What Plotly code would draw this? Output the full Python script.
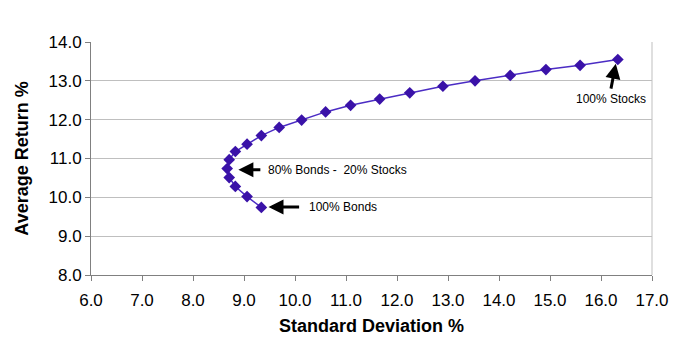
import plotly.graph_objects as go

# Efficient frontier: 100% Bonds -> 100% Stocks in 5% steps
std_dev = [9.34, 9.06, 8.83, 8.71, 8.67, 8.71, 8.83, 9.06, 9.34, 9.69, 10.13,
           10.60, 11.09, 11.66, 12.25, 12.90, 13.53, 14.22, 14.92, 15.59, 16.33]
avg_return = [9.74, 10.02, 10.28, 10.51, 10.74, 10.97, 11.18, 11.37, 11.59, 11.80, 11.99,
              12.20, 12.37, 12.53, 12.69, 12.86, 13.00, 13.14, 13.29, 13.40, 13.55]

x_ticks = [6, 7, 8, 9, 10, 11, 12, 13, 14, 15, 16, 17]
y_ticks = [8, 9, 10, 11, 12, 13, 14]

font = "Liberation Sans, Arial, sans-serif"

fig = go.Figure()
fig.add_trace(go.Scatter(
    x=std_dev, y=avg_return, mode="lines+markers",
    line=dict(color="#4B2CC4", width=1.5),
    marker=dict(symbol="diamond", size=9, color="#3A12A8"),
    showlegend=False, hoverinfo="x+y",
))

# arrows (no text) + labels
arrows = [
    # (head_x, head_y, tail_x, tail_y)
    (8.89, 10.71, 9.35, 10.71),
    (9.48, 9.75, 10.11, 9.75),
    (16.29, 13.44, 16.19, 12.76),
]
for hx, hy, tx, ty in arrows:
    fig.add_annotation(x=hx, y=hy, ax=tx, ay=ty, xref="x", yref="y",
                       axref="x", ayref="y", text="", showarrow=True,
                       arrowhead=2, arrowsize=1.0, arrowwidth=3, arrowcolor="black")

labels = [
    (9.44, 10.71, "80% Bonds -  20% Stocks", "left"),
    (10.24, 9.75, "100% Bonds", "left"),
    (16.2, 12.52, "100% Stocks", "center"),
]
for lx, ly, t, anc in labels:
    fig.add_annotation(x=lx, y=ly, text=t, showarrow=False, xanchor=anc,
                       yanchor="middle", font=dict(family=font, size=12, color="black"))

fig.update_layout(
    width=682, height=354,
    margin=dict(l=91, r=30, t=42, b=79),
    paper_bgcolor="white", plot_bgcolor="white",
    font=dict(family=font, color="black"),
)
fig.update_xaxes(
    range=[6, 17], tickvals=x_ticks, ticktext=[f"{v:.1f}" for v in x_ticks],
    showgrid=False, zeroline=False,
    showline=True, linecolor="#808080", linewidth=1, mirror=False,
    ticks="outside", ticklen=5, tickcolor="#808080",
    ticklabelstandoff=5,
    tickfont=dict(family=font, size=17),
    title=dict(text="<b>Standard Deviation %</b>", font=dict(family=font, size=18), standoff=9),
)
fig.update_yaxes(
    range=[8, 14], tickvals=y_ticks, ticktext=[f"{v:.1f}" for v in y_ticks],
    showgrid=True, gridcolor="#BFBFBF", gridwidth=1, zeroline=False,
    showline=True, linecolor="#808080", linewidth=1,
    ticks="outside", ticklen=5, tickcolor="#808080",
    tickfont=dict(family=font, size=17),
    title=dict(text="<b>Average Return %</b>", font=dict(family=font, size=18), standoff=15),
)
# right border line
fig.add_shape(type="line", xref="paper", yref="paper", x0=1, x1=1, y0=0, y1=1,
              line=dict(color="#BFBFBF", width=1))

fig.write_html("out.html")
